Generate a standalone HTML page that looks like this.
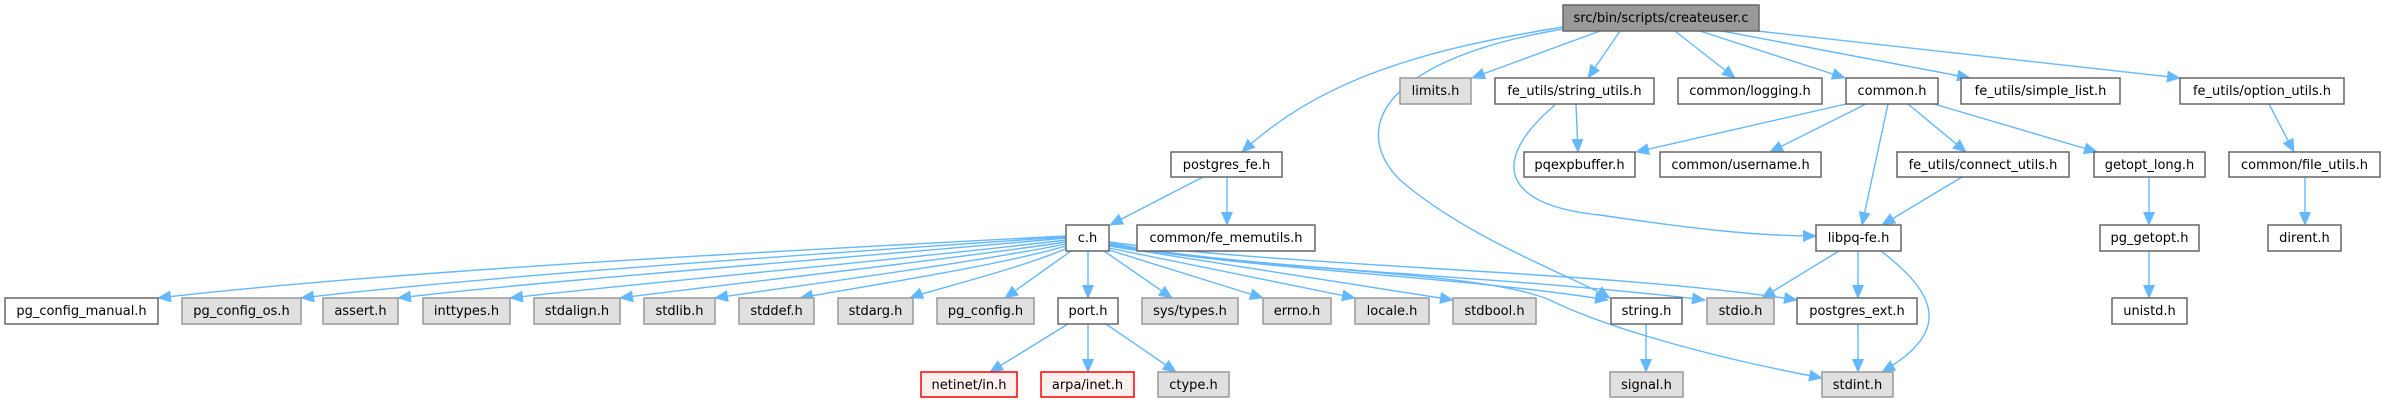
<!DOCTYPE html>
<html><head><meta charset="utf-8"><style>
html,body{margin:0;padding:0;background:#fff;}
svg{display:block;}
text{font-family:"DejaVu Sans","Liberation Sans",sans-serif;font-size:13px;fill:#000;text-anchor:middle;}
.w{fill:#fff;stroke:#666;stroke-width:1.5}
.g{fill:#e0e0e0;stroke:#999;stroke-width:1.5}
.r{fill:#fff0f0;stroke:#f00;stroke-width:1.5}
.root{fill:#999;stroke:#666;stroke-width:1.5}
.e{fill:none;stroke:#63b8ff;stroke-width:1.4;marker-end:url(#a)}
</style></head><body>
<svg width="2382" height="403" viewBox="0 0 2382 403" xmlns="http://www.w3.org/2000/svg">
<defs><marker id="a" markerUnits="userSpaceOnUse" markerWidth="14" markerHeight="12" refX="13" refY="6" orient="auto"><path d="M0,0 L14,6 L0,12 z" fill="#63b8ff"/></marker></defs>
<path class="e" d="M1563,27 C1420,50 1320,80 1242,152"/>
<path class="e" d="M1563,29 C1380,60 1350,130 1400,180 C1470,240 1570,275 1610,298"/>
<path class="e" d="M1600,31 L1472,78"/>
<path class="e" d="M1620,31 L1588,78"/>
<path class="e" d="M1675,31 L1735,78"/>
<path class="e" d="M1700,31 L1845,78"/>
<path class="e" d="M1722,31 L1970,78"/>
<path class="e" d="M1757,31 L2180,78"/>
<path class="e" d="M1576,104 L1578,152"/>
<path class="e" d="M1555,105 C1490,160 1500,205 1600,215 C1700,230 1760,236 1816,236"/>
<path class="e" d="M1846,104 L1636,152"/>
<path class="e" d="M1866,104 L1770,152"/>
<path class="e" d="M1888,104 L1862,225"/>
<path class="e" d="M1908,104 L1966,152"/>
<path class="e" d="M1934,104 L2097,152"/>
<path class="e" d="M2269,104 L2294,152"/>
<path class="e" d="M1962,177 L1882,225"/>
<path class="e" d="M2149,177 L2149,225"/>
<path class="e" d="M2305,177 L2305,225"/>
<path class="e" d="M2149,251 L2149,298"/>
<path class="e" d="M1839,251 L1762,298"/>
<path class="e" d="M1858,251 L1858,298"/>
<path class="e" d="M1881,251 C1945,300 1945,335 1882,372"/>
<path class="e" d="M1858,324 L1858,372"/>
<path class="e" d="M1646,324 L1646,372"/>
<path class="e" d="M1203,177 L1110,225"/>
<path class="e" d="M1227,177 L1227,225"/>
<path class="e" d="M1066,236 C800,250 400,270 158,298"/>
<path class="e" d="M1066,237 C800,255 500,275 301,298"/>
<path class="e" d="M1066,238 C850,258 550,280 398,298"/>
<path class="e" d="M1066,240 C900,260 650,282 510,298"/>
<path class="e" d="M1066,242 C930,262 720,285 620,298"/>
<path class="e" d="M1066,244 C960,265 780,288 715,298"/>
<path class="e" d="M1066,246 C990,268 840,290 800,298"/>
<path class="e" d="M1068,248 C1010,272 930,290 910,298"/>
<path class="e" d="M1071,251 L1005,298"/>
<path class="e" d="M1088,251 L1088,298"/>
<path class="e" d="M1104,251 L1172,298"/>
<path class="e" d="M1109,250 L1263,298"/>
<path class="e" d="M1109,248 L1355,298"/>
<path class="e" d="M1109,246 L1453,300"/>
<path class="e" d="M1109,244 C1250,270 1450,275 1608,300"/>
<path class="e" d="M1109,243 C1250,270 1500,275 1705,300"/>
<path class="e" d="M1109,242 C1300,268 1600,270 1797,300"/>
<path class="e" d="M1109,245 C1250,270 1480,270 1550,300 C1600,325 1700,355 1822,378"/>
<path class="e" d="M1068,324 L990,372"/>
<path class="e" d="M1088,324 L1088,372"/>
<path class="e" d="M1106,324 L1176,372"/>
<rect class="root" x="1563" y="5" width="196" height="26"/><text x="1661" y="22">src/bin/scripts/createuser.c</text>
<rect class="g" x="1400" y="78" width="71" height="26"/><text x="1435.5" y="95">limits.h</text>
<rect class="w" x="1495" y="78" width="159" height="26"/><text x="1574.5" y="95">fe_utils/string_utils.h</text>
<rect class="w" x="1678" y="78" width="144" height="26"/><text x="1750" y="95">common/logging.h</text>
<rect class="w" x="1846" y="78" width="92" height="26"/><text x="1892" y="95">common.h</text>
<rect class="w" x="1961" y="78" width="159" height="26"/><text x="2040.5" y="95">fe_utils/simple_list.h</text>
<rect class="w" x="2180" y="78" width="164" height="26"/><text x="2262" y="95">fe_utils/option_utils.h</text>
<rect class="w" x="1171" y="152" width="111" height="25"/><text x="1226.5" y="169">postgres_fe.h</text>
<rect class="w" x="1524" y="152" width="111" height="25"/><text x="1579.5" y="169">pqexpbuffer.h</text>
<rect class="w" x="1660" y="152" width="161" height="25"/><text x="1740.5" y="169">common/username.h</text>
<rect class="w" x="1897" y="152" width="172" height="25"/><text x="1983" y="169">fe_utils/connect_utils.h</text>
<rect class="w" x="2094" y="152" width="111" height="25"/><text x="2149.5" y="169">getopt_long.h</text>
<rect class="w" x="2229" y="152" width="151" height="25"/><text x="2304.5" y="169">common/file_utils.h</text>
<rect class="w" x="1066" y="225" width="43" height="26"/><text x="1087.5" y="242">c.h</text>
<rect class="w" x="1137" y="225" width="178" height="26"/><text x="1226" y="242">common/fe_memutils.h</text>
<rect class="w" x="1816" y="225" width="85" height="26"/><text x="1858.5" y="242">libpq-fe.h</text>
<rect class="w" x="2100" y="225" width="99" height="26"/><text x="2149.5" y="242">pg_getopt.h</text>
<rect class="w" x="2268" y="225" width="73" height="26"/><text x="2304.5" y="242">dirent.h</text>
<rect class="w" x="5" y="298" width="153" height="26"/><text x="81.5" y="315">pg_config_manual.h</text>
<rect class="g" x="182" y="298" width="119" height="26"/><text x="241.5" y="315">pg_config_os.h</text>
<rect class="g" x="323" y="298" width="75" height="26"/><text x="360.5" y="315">assert.h</text>
<rect class="g" x="423" y="298" width="87" height="26"/><text x="466.5" y="315">inttypes.h</text>
<rect class="g" x="534" y="298" width="86" height="26"/><text x="577" y="315">stdalign.h</text>
<rect class="g" x="644" y="298" width="71" height="26"/><text x="679.5" y="315">stdlib.h</text>
<rect class="g" x="739" y="298" width="75" height="26"/><text x="776.5" y="315">stddef.h</text>
<rect class="g" x="838" y="298" width="75" height="26"/><text x="875.5" y="315">stdarg.h</text>
<rect class="g" x="937" y="298" width="97" height="26"/><text x="985.5" y="315">pg_config.h</text>
<rect class="w" x="1058" y="298" width="60" height="26"/><text x="1088" y="315">port.h</text>
<rect class="g" x="1142" y="298" width="96" height="26"/><text x="1190" y="315">sys/types.h</text>
<rect class="g" x="1263" y="298" width="68" height="26"/><text x="1297" y="315">errno.h</text>
<rect class="g" x="1355" y="298" width="74" height="26"/><text x="1392" y="315">locale.h</text>
<rect class="g" x="1453" y="298" width="83" height="26"/><text x="1494.5" y="315">stdbool.h</text>
<rect class="w" x="1611" y="298" width="71" height="26"/><text x="1646.5" y="315">string.h</text>
<rect class="g" x="1707" y="298" width="67" height="26"/><text x="1740.5" y="315">stdio.h</text>
<rect class="w" x="1797" y="298" width="120" height="26"/><text x="1857" y="315">postgres_ext.h</text>
<rect class="w" x="2112" y="298" width="75" height="26"/><text x="2149.5" y="315">unistd.h</text>
<rect class="r" x="921" y="372" width="96" height="25"/><text x="969" y="389">netinet/in.h</text>
<rect class="r" x="1041" y="372" width="93" height="25"/><text x="1087.5" y="389">arpa/inet.h</text>
<rect class="g" x="1158" y="372" width="71" height="25"/><text x="1193.5" y="389">ctype.h</text>
<rect class="g" x="1610" y="372" width="73" height="25"/><text x="1646.5" y="389">signal.h</text>
<rect class="g" x="1822" y="372" width="71" height="25"/><text x="1857.5" y="389">stdint.h</text>
</svg>
</body></html>
